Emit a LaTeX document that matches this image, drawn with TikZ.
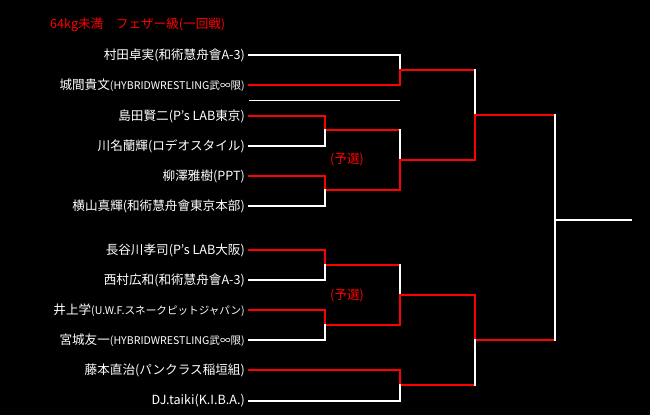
\documentclass[tikz,border=0pt]{standalone}
\usepackage{fontspec}
\setmainfont{Noto Sans CJK JP}
\begin{document}
\begin{tikzpicture}[x=1pt,y=-1pt,
  nm/.style={anchor=east,text=white,inner sep=0pt,font=\fontsize{12.6}{13}\selectfont},
  wl/.style={draw=white,line width=1.8pt,line cap=rect},
  rl/.style={draw=red,line width=1.8pt,line cap=rect},
  lab/.style={text=red,inner sep=0pt,font=\fontsize{12.6}{13}\selectfont}]
\newcommand\smp[1]{{\fontsize{10.6}{11}\selectfont #1}}
\fill[black] (0,0) rectangle (650,415);
\useasboundingbox (0,0) rectangle (650,415);
\node[lab,anchor=west] (title) at (50,25) {64kg未満\quad フェザー級(一回戦)};
\foreach \i/\y in {1/55,2/85,3/116,4/146,5/176,6/206,7/250,8/280,9/310,10/340,11/370,12/401}
  \coordinate (p\i) at (249,\y);
\node[nm] (n1) at (245,55) {村田卓実(和術慧舟會A-3)};
\node[nm] (n2) at (245,85) {城間貴文\smp{(HYBRIDWRESTLING武∞限)}};
\node[nm] (n3) at (245,116) {島田賢二(P's LAB東京)};
\node[nm] (n4) at (245,146) {川名蘭輝(ロデオスタイル)};
\node[nm] (n5) at (245,176) {柳澤雅樹(PPT)};
\node[nm] (n6) at (245,206) {横山真輝(和術慧舟會東京本部)};
\node[nm] (n7) at (245,250) {長谷川孝司(P's LAB大阪)};
\node[nm] (n8) at (245,280) {西村広和(和術慧舟會A-3)};
\node[nm] (n9) at (245,310) {井上学\smp{(U.W.F.スネークピットジャパン)}};
\node[nm] (n10) at (245,340) {宮城友一\smp{(HYBRIDWRESTLING武∞限)}};
\node[nm] (n11) at (245,370) {藤本直治(パンクラス稲垣組)};
\node[nm] (n12) at (245,401) {DJ.taiki(K.I.B.A.)};
\node[lab] (q1) at (347,160) {(予選)};
\node[lab] (q2) at (347,296) {(予選)};
\coordinate (s1) at (249,100); \coordinate (s2) at (400,100);
\draw[draw=white,line width=1pt] (s1) -- (s2);
\draw[wl] (p1) -| (400,70);
\draw[rl] (p2) -| (400,70) -- (475,70);
\draw[rl] (p3) -| (325,130) -- (400,130);
\draw[wl] (p4) -| (325,130);
\draw[rl] (p5) -| (325,190) -- (400,190);
\draw[wl] (p6) -| (325,190);
\draw[wl] (400,130) -- (400,160);
\draw[rl] (400,190) -- (400,160) -- (475,160);
\draw[wl] (475,70) -- (475,115);
\draw[rl] (475,160) -- (475,115) -- (555,115);
\draw[rl] (p7) -| (325,265) -- (400,265);
\draw[wl] (p8) -| (325,265);
\draw[rl] (p9) -| (325,325) -- (400,325);
\draw[wl] (p10) -| (325,325);
\draw[wl] (400,265) -- (400,295);
\draw[rl] (400,325) -- (400,295) -- (475,295);
\draw[rl] (p11) -| (400,385) -- (475,385);
\draw[wl] (p12) -| (400,385);
\draw[rl] (475,295) -- (475,340) -- (555,340);
\draw[wl] (475,385) -- (475,340);
\coordinate (fin) at (631,220);
\draw[wl] (555,115) -- (555,340);
\draw[wl] (555,220) -- (fin);
\end{tikzpicture}
\end{document}
